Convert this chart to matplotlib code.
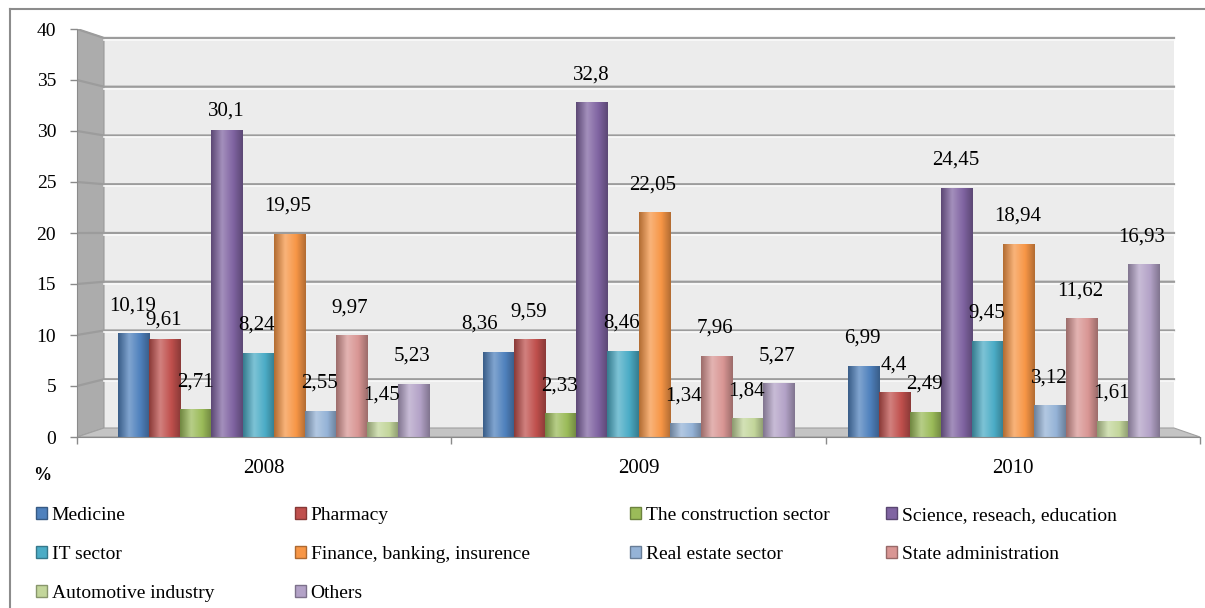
import numpy as np
import matplotlib
matplotlib.use("Agg")
import matplotlib.pyplot as plt
from matplotlib.colors import LinearSegmentedColormap, to_rgb
from matplotlib.patches import Polygon, Rectangle
from matplotlib.lines import Line2D
from matplotlib.transforms import IdentityTransform

plt.rcParams["font.family"] = ["Liberation Serif", "DejaVu Serif"]

years = ["2008", "2009", "2010"]
sectors = [
    "Medicine", "Pharmacy", "The construction sector", "Science, reseach, education",
    "IT sector", "Finance, banking, insurence", "Real estate sector",
    "State administration", "Automotive industry", "Others",
]
medicine = [10.19, 8.36, 6.99]
pharmacy = [9.61, 9.59, 4.4]
construction = [2.71, 2.33, 2.49]
science = [30.1, 32.8, 24.45]
it_sector = [8.24, 8.46, 9.45]
finance = [19.95, 22.05, 18.94]
real_estate = [2.55, 1.34, 3.12]
state_admin = [9.97, 7.96, 11.62]
automotive = [1.45, 1.84, 1.61]
others = [5.23, 5.27, 16.93]
series = [medicine, pharmacy, construction, science, it_sector,
          finance, real_estate, state_admin, automotive, others]
colors = ["#4F81BD", "#C0504D", "#9BBB59", "#8064A2", "#4BACC6",
          "#F79646", "#95B3D7", "#D99694", "#C3D69B", "#B3A2C7"]

# a few labels sit off their usual spot in the original (series, year) -> (dx, dy) in px
label_nudge = {(1, 0): (0, -9), (3, 0): (0, -9), (0, 1): (-18, 0)}

W, H = 1205, 608
fig = plt.figure(figsize=(W / 100, H / 100), dpi=100)
ax_left, ax_right, ax_bottom, ax_top = 77, 1200, 437, 29
ax = fig.add_axes([ax_left / W, 1 - ax_bottom / H,
                   (ax_right - ax_left) / W, (ax_bottom - ax_top) / H])
ax.set_facecolor("none")
xlim, ylim = (-0.5, 2.5), (0, 40)
ax.set_xlim(*xlim)
ax.set_ylim(*ylim)

# 3D frame (side wall, back wall, floor) in pixel coordinates
dx, dy, back_scale, back_right = 27, 9, 0.956, 1174
ident = IdentityTransform()


def front_y(v):
    return ax.transData.transform((0, v))[1]


y0 = front_y(0)


def back_y(v):
    return y0 + dy + (front_y(v) - y0) * back_scale


fx0 = ax.transData.transform((xlim[0], 0))[0]
fx1 = ax.transData.transform((xlim[1], 0))[0]
bx0 = fx0 + dx
bx1 = fx0 + (back_right - ax_left)

ax.add_patch(Polygon([(bx0, back_y(0)), (bx1, back_y(0)), (bx1, back_y(40)), (bx0, back_y(40))],
                     closed=True, transform=ident, facecolor="#ececec", edgecolor="none", zorder=0))
ax.add_patch(Polygon([(fx0, y0), (fx0, front_y(40)), (bx0, back_y(40)), (bx0, back_y(0))],
                     closed=True, transform=ident, facecolor="#acacac", edgecolor="#9a9a9a",
                     linewidth=0.8, zorder=0.5))
ax.add_patch(Polygon([(fx0, y0), (fx1, y0), (bx1, back_y(0)), (bx0, back_y(0))],
                     closed=True, transform=ident, facecolor="#c4c4c4", edgecolor="#a0a0a0",
                     linewidth=0.8, zorder=0.6))
for v in range(5, 41, 5):
    ax.add_line(Line2D([fx0, bx0, bx1], [front_y(v), back_y(v), back_y(v)],
                       transform=ident, color="#9c9c9c", linewidth=1.6, zorder=0.7))
    ax.add_line(Line2D([bx0, bx1], [back_y(v) - 2, back_y(v) - 2],
                       transform=ident, color="#fafafa", linewidth=1.2, zorder=0.7))

# bars with cylinder-like shading; slight perspective pull toward the middle
x = np.arange(len(years))
persp = 0.975
width = 0.085 * persp
grad = np.linspace(0, 1, 64).reshape(1, -1)
for i, (vals, col) in enumerate(zip(series, colors)):
    base = np.array(to_rgb(col))
    dark = base * 0.72
    light = base + (1 - base) * 0.28
    cmap = LinearSegmentedColormap.from_list(
        f"c{i}", [(0, dark), (0.35, light), (0.7, base), (1, dark)])
    pos = 1 + (x + (i - 4.5) * 0.085 - 1) * persp
    bars = ax.bar(pos, vals, width=width, color=col, zorder=2, linewidth=0)
    for j, (rect, v) in enumerate(zip(bars, vals)):
        im = ax.imshow(grad, cmap=cmap, extent=(rect.get_x(), rect.get_x() + width, 0, v),
                       aspect="auto", interpolation="bicubic", zorder=2.5)
        im.set_clip_path(rect)
        ndx, ndy = label_nudge.get((i, j), (0, 0))
        ax.annotate(f"{v:g}".replace(".", ","), (rect.get_x() + width / 2, v),
                    xytext=((ndx - 1) * 0.72, (18 + ndy) * 0.72), textcoords="offset points",
                    ha="center", va="bottom", fontsize=15, color="#000000", zorder=5)

ax.set_xlim(*xlim)
ax.set_ylim(*ylim)

# axes
for s in ["top", "right"]:
    ax.spines[s].set_visible(False)
ax.spines["left"].set_color("#8a8a8a")
ax.spines["bottom"].set_color("#8a8a8a")
ax.spines["left"].set_zorder(1)
ax.set_yticks(range(0, 41, 5))
ax.tick_params(axis="y", length=5, width=1, color="#8a8a8a", pad=10, labelsize=14)
ax.set_xticks(x)
ax.set_xticklabels(years)
ax.set_xticks([-0.5, 0.5, 1.5, 2.5], minor=True)
ax.tick_params(axis="x", which="major", length=0, pad=16, labelsize=15)
ax.tick_params(axis="x", which="minor", length=5, width=1, color="#8a8a8a")

fig.text(42 / W, 1 - 475 / H, "%", ha="center", va="center", fontsize=13, fontweight="bold")

# legend, laid out in rows as in the original
handles = [Rectangle((0, 0), 1, 1, facecolor=c, edgecolor=tuple(np.array(to_rgb(c)) * 0.7), linewidth=1)
           for c in colors]
col_x = [36, 295, 630, 886]
for c in range(4):
    idx = [k for k in range(c, len(sectors), 4)]
    fig.legend([handles[k] for k in idx], [sectors[k] for k in idx],
               loc="upper left", bbox_to_anchor=(col_x[c] / W, 1 - 507 / H),
               frameon=False, fontsize=14, borderpad=0, borderaxespad=0,
               handlelength=0.55, handleheight=0.55, handletextpad=0.25, labelspacing=1.13)

# outer frame
fig.add_artist(Line2D([10 / W, 1], [1 - 9 / H, 1 - 9 / H], color="#8c8c8c", linewidth=1.5))
fig.add_artist(Line2D([10 / W, 10 / W], [0, 1 - 9 / H], color="#8c8c8c", linewidth=1.5))

fig.savefig("out.png", dpi=100)
